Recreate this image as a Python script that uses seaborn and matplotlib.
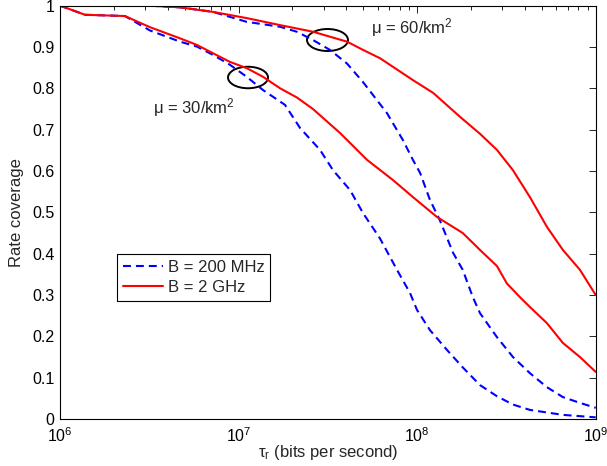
import matplotlib
matplotlib.use("Agg")
import matplotlib.pyplot as plt
from matplotlib.patches import Ellipse
from matplotlib.lines import Line2D
from matplotlib.ticker import LogLocator, NullFormatter
import numpy as np
import pandas as pd
import seaborn as sns

# ---- data ----
r30_x = [1.00e6, 1.11e6, 1.38e6, 2.31e6, 3.19e6, 4.70e6, 5.85e6, 7.19e6, 8.95e6, 1.11e7,
         1.37e7, 1.71e7, 2.12e7, 2.61e7, 3.70e7, 5.24e7, 7.33e7, 9.47e7, 1.29e8, 1.80e8,
         2.25e8, 2.80e8, 3.18e8, 3.76e8, 4.28e8, 5.33e8, 6.55e8, 8.16e8, 1.00e9]
r30_y = [1.000, 0.993, 0.978, 0.975, 0.948, 0.921, 0.905, 0.885, 0.864, 0.849,
         0.828, 0.800, 0.778, 0.750, 0.692, 0.627, 0.578, 0.537, 0.489, 0.450,
         0.409, 0.370, 0.328, 0.295, 0.271, 0.232, 0.184, 0.150, 0.114]

b30_x = [1.00e6, 1.11e6, 1.38e6, 2.31e6, 3.19e6, 4.70e6, 5.85e6, 7.19e6, 8.95e6, 1.11e7,
         1.37e7, 1.82e7, 2.21e7, 2.86e7, 3.38e7, 4.21e7, 4.98e7, 6.19e7, 7.71e7, 9.12e7,
         9.98e7, 1.18e8, 1.47e8, 1.80e8, 2.25e8, 2.80e8, 3.44e8, 4.28e8, 6.55e8,
         1.00e9]
b30_y = [1.000, 0.993, 0.978, 0.975, 0.940, 0.913, 0.901, 0.881, 0.857, 0.828,
         0.796, 0.760, 0.704, 0.651, 0.602, 0.554, 0.498, 0.437, 0.361, 0.305,
         0.264, 0.215, 0.167, 0.125, 0.082, 0.055, 0.035, 0.022, 0.010,
         0.004]

r60_x = [1.00e6, 3.19e6, 4.70e6, 7.19e6, 1.11e7, 1.71e7, 2.61e7, 3.25e7, 4.05e7, 4.98e7,
         6.19e7, 9.47e7, 1.23e8, 1.74e8, 2.25e8, 2.80e8, 3.44e8, 4.28e8, 5.33e8, 6.55e8,
         8.16e8, 1.00e9]
r60_y = [1.000, 1.000, 0.996, 0.985, 0.970, 0.953, 0.937, 0.925, 0.913, 0.893,
         0.873, 0.820, 0.789, 0.731, 0.690, 0.651, 0.602, 0.537, 0.465, 0.409,
         0.361, 0.300]

b60_x = [1.00e6, 3.19e6, 4.70e6, 7.19e6, 1.11e7, 1.71e7, 2.12e7, 2.61e7, 3.25e7, 4.05e7,
         4.98e7, 6.78e7, 8.32e7, 9.47e7, 1.04e8, 1.18e8, 1.34e8, 1.59e8, 1.80e8, 2.05e8,
         2.25e8, 2.80e8, 3.44e8, 4.28e8, 5.33e8, 6.55e8, 8.16e8, 1.00e9]
b60_y = [1.000, 1.000, 0.996, 0.985, 0.961, 0.949, 0.937, 0.917, 0.893, 0.860,
         0.815, 0.740, 0.675, 0.627, 0.595, 0.530, 0.481, 0.402, 0.361, 0.295,
         0.256, 0.198, 0.150, 0.111, 0.077, 0.053, 0.039, 0.027]

legend_labels = ["B = 200 MHz", "B = 2 GHz"]
y_ticks = [0, 0.1, 0.2, 0.3, 0.4, 0.5, 0.6, 0.7, 0.8, 0.9, 1]
y_tick_labels = ["0", "0.1", "0.2", "0.3", "0.4", "0.5", "0.6", "0.7", "0.8", "0.9", "1"]
x_ticks = [1e6, 1e7, 1e8, 1e9]
x_tick_labels = ["$10^6$", "$10^7$", "$10^8$", "$10^9$"]

# ---- style ----
sns.set_style("white")
plt.rcParams["font.family"] = ["Liberation Sans", "DejaVu Sans"]
plt.rcParams["mathtext.fontset"] = "custom"
plt.rcParams["mathtext.rm"] = "Liberation Sans"
plt.rcParams["mathtext.it"] = "Liberation Sans:italic"
plt.rcParams["mathtext.default"] = "regular"

BLUE = "#0000ff"
RED = "#ff0000"
LW = 1.5
DASH = (3.8, 2.4)

fig = plt.figure(figsize=(6.07, 4.66), dpi=100)
ax = fig.add_axes([60 / 607, 47 / 466, 535.7 / 607, 413.3 / 466])

curves = [
    (b30_x, b30_y, BLUE, True),
    (b60_x, b60_y, BLUE, True),
    (r30_x, r30_y, RED, False),
    (r60_x, r60_y, RED, False),
]
for xs, ys, col, dashed in curves:
    df = pd.DataFrame({"x": xs, "y": ys})
    line_ax = sns.lineplot(data=df, x="x", y="y", ax=ax, color=col, linewidth=LW,
                           estimator=None, sort=False, legend=False)
    ln = line_ax.get_lines()[-1]
    if dashed:
        ln.set_linestyle((0, DASH))

ax.set_xscale("log")
ax.set_xlim(1e6, 1e9)
ax.set_ylim(0, 1)

ax.set_xticks(x_ticks)
ax.set_xticklabels(x_tick_labels)
ax.xaxis.set_minor_locator(LogLocator(base=10, subs=np.arange(2, 10)))
ax.xaxis.set_minor_formatter(NullFormatter())
ax.set_yticks(y_ticks)
ax.set_yticklabels(y_tick_labels)

ax.tick_params(axis="both", which="both", direction="in", top=True, right=True,
               labelsize=11.5, colors="black")
ax.tick_params(axis="both", which="major", length=5, width=0.6)
ax.tick_params(axis="x", which="minor", length=3, width=0.6)
ax.tick_params(axis="x", which="major", pad=5.5)
ax.tick_params(axis="y", which="major", pad=4)

for sp in ax.spines.values():
    sp.set_color("black")
    sp.set_linewidth(0.8)

ax.set_xlabel("τ$_r$ (bits per second)", fontsize=12, labelpad=-1.5)
ax.set_ylabel("Rate coverage", fontsize=12, labelpad=6)

# annotations
ax.add_patch(Ellipse(((248 - 60) / 535.7, (419 - 77.5) / 413.3), 40 / 535.7, 21.5 / 413.3,
                     transform=ax.transAxes, fill=False, edgecolor="black", linewidth=1.4))
ax.add_patch(Ellipse(((327.5 - 60) / 535.7, (419 - 40) / 413.3), 41 / 535.7, 22 / 413.3,
                     transform=ax.transAxes, fill=False, edgecolor="black", linewidth=1.4))
ax.text((153 - 60) / 535.7, (419 - 108) / 413.3, "μ = 30/km$^2$", transform=ax.transAxes,
        fontsize=12, ha="left", va="center")
ax.text((371 - 60) / 535.7, (419 - 28) / 413.3, "μ = 60/km$^2$", transform=ax.transAxes,
        fontsize=12, ha="left", va="center")

handles = [Line2D([], [], color=BLUE, linewidth=LW, linestyle=(0, DASH)),
           Line2D([], [], color=RED, linewidth=LW)]
leg = ax.legend(handles, legend_labels, loc="lower left",
                bbox_to_anchor=((117 - 60) / 535.7, (419 - 301) / 413.3),
                borderaxespad=0, fancybox=False, framealpha=1, edgecolor="black",
                fontsize=12, handlelength=2.4, handletextpad=0.3, borderpad=0.35,
                labelspacing=0.3)
leg.get_frame().set_linewidth(0.8)

fig.savefig("out.png", dpi=100)
